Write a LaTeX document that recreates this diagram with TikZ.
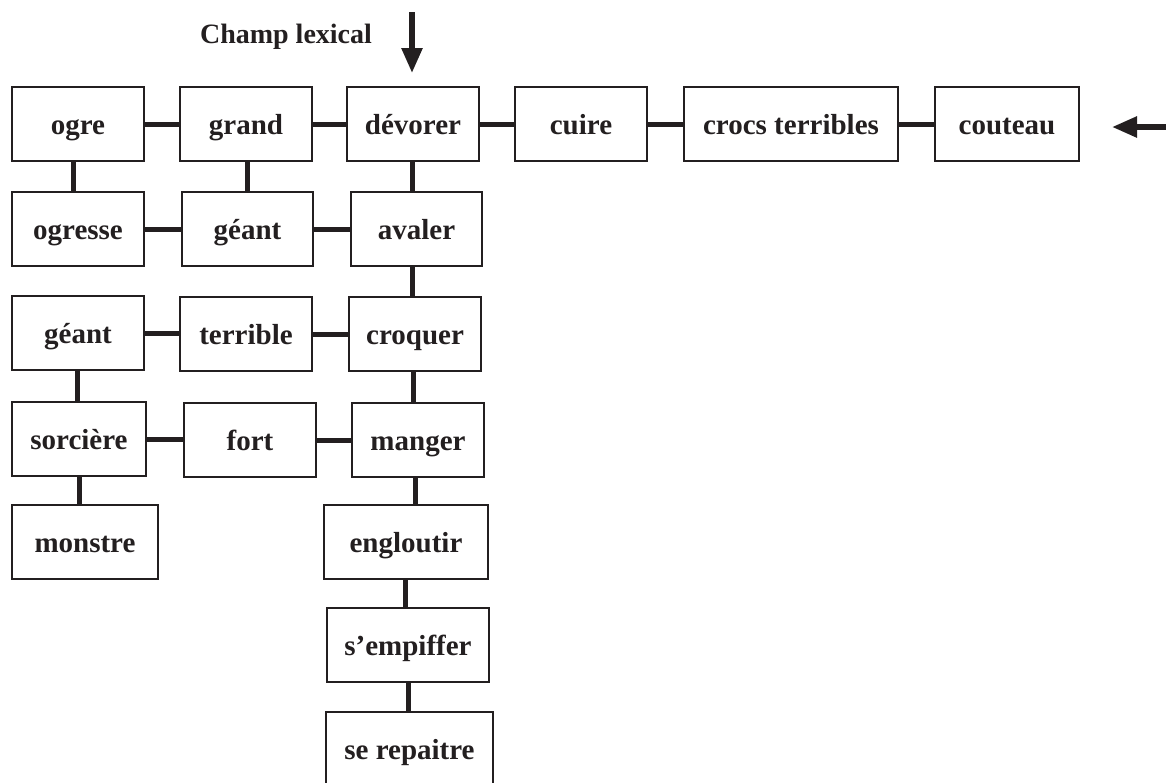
\documentclass[tikz,border=0pt]{standalone}
\usepackage{fontspec}
\setmainfont{Liberation Serif}
\usetikzlibrary{arrows.meta,calc}
\definecolor{ink}{HTML}{231F20}
\tikzset{
  box/.style={draw=ink, line width=2pt, rectangle, inner sep=0pt, minimum height=74pt,
    text height=22pt, text depth=1pt,
    text=ink, font=\fontsize{29}{32}\selectfont\bfseries},
  conn/.style={draw=ink, line width=5pt},
  bigarrow/.style={draw=ink, line width=5.5pt, -{Triangle[width=20pt,length=25pt]}},
  title/.style={text=ink, font=\fontsize{28}{30}\selectfont\bfseries}
}
\begin{document}
\begin{tikzpicture}[x=1pt,y=-1pt]
\useasboundingbox[fill=white] (0,0) rectangle (1166,782);
% row 1
\node[box, minimum width=132pt] (ogre) at (78,124) {ogre};
\node[box, minimum width=132pt] (grand) at (246,124) {grand};
\node[box, minimum width=132pt] (devorer) at (413,124) {dévorer};
\node[box, minimum width=132pt] (cuire) at (581,124) {cuire};
\node[box, minimum width=214pt] (crocs) at (791,124) {crocs terribles};
\node[box, minimum width=144pt] (couteau) at (1007,124) {couteau};
% row 2
\node[box, minimum width=132pt] (ogresse) at (78,229) {ogresse};
\node[box, minimum width=131pt] (geantA) at (247.5,229) {géant};
\node[box, minimum width=131pt] (avaler) at (416.5,229) {avaler};
% row 3
\node[box, minimum width=132pt] (geantB) at (78,333) {géant};
\node[box, minimum width=132pt] (terrible) at (246,334) {terrible};
\node[box, minimum width=132pt] (croquer) at (415,334) {croquer};
% row 4
\node[box, minimum width=134pt] (sorciere) at (79,439) {sorcière};
\node[box, minimum width=132pt] (fort) at (250,440) {fort};
\node[box, minimum width=132pt] (manger) at (418,440) {manger};
% row 5
\node[box, minimum width=146pt] (monstre) at (85,542) {monstre};
\node[box, minimum width=164pt] (engloutir) at (406,542) {engloutir};
% rows 6-7
\node[box, minimum width=162pt] (sempiffer) at (408,645) {s’empiffer};
\node[box, minimum width=167pt] (repaitre) at (409.5,749) {se repaitre};
% horizontal connectors
\foreach \a/\b in {ogre/grand, grand/devorer, devorer/cuire, cuire/crocs, crocs/couteau,
  ogresse/geantA, geantA/avaler, geantB/terrible, terrible/croquer, sorciere/fort, fort/manger}
  \draw[conn] (\a.east) -- (\a.east -| \b.west);
% vertical connectors
\draw[conn] ([xshift=-5pt]ogre.south) -- ([xshift=-5pt]ogre.south |- ogresse.north);
\draw[conn] ([xshift=1pt]grand.south) -- ([xshift=1pt]grand.south |- geantA.north);
\draw[conn] ([xshift=-1pt]devorer.south) -- ([xshift=-1pt]devorer.south |- avaler.north);
\draw[conn] ([xshift=-4.5pt]avaler.south) -- ([xshift=-4.5pt]avaler.south |- croquer.north);
\draw[conn] ([xshift=-2pt]croquer.south) -- ([xshift=-2pt]croquer.south |- manger.north);
\draw[conn] ([xshift=-3pt]manger.south) -- ([xshift=-3pt]manger.south |- engloutir.north);
\draw[conn] ([xshift=-1pt]engloutir.south) -- ([xshift=-1pt]engloutir.south |- sempiffer.north);
\draw[conn] ([xshift=0pt]sempiffer.south) -- ([xshift=0pt]sempiffer.south |- repaitre.north);
\draw[conn] ([xshift=-1pt]geantB.south) -- ([xshift=-1pt]geantB.south |- sorciere.north);
\draw[conn] ([xshift=0pt]sorciere.south) -- ([xshift=0pt]sorciere.south |- monstre.north);
% title and arrows
\node[title] (champ) at (286,37) {Champ lexical};
\coordinate (dtop) at (412,12);
\coordinate (dtip) at (412,73);
\draw[bigarrow] (dtop) -- (dtip);
\coordinate (rstart) at (1170,127);
\coordinate (rtip) at (1112,127);
\draw[bigarrow] (rstart) -- (rtip);
\end{tikzpicture}
\end{document}
